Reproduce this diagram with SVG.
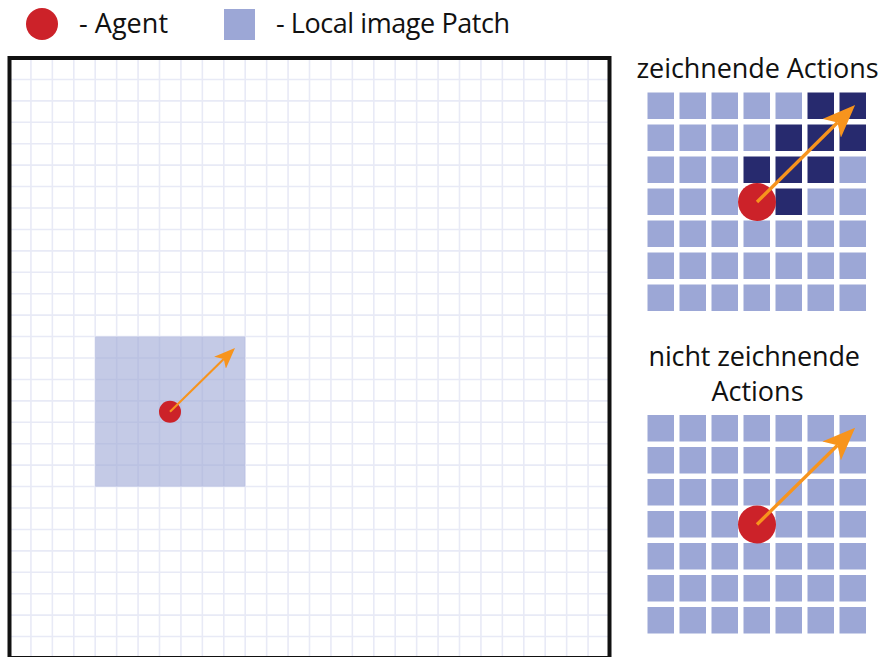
<svg xmlns="http://www.w3.org/2000/svg" width="883" height="657" viewBox="0 0 883 657">
<style>
text{font-family:"Open Sans","Noto Sans","Liberation Sans",sans-serif;font-size:27px;fill:#111;}
.agent{fill:#cc2229;}
.cell{fill:#9ca7d6;}
.dark{fill:#272a6e;}
.arrow{stroke:#f7941d;fill:none;marker-end:url(#head);}
.grid{stroke:#e8eaf6;stroke-width:1.6;fill:none;}
</style>
<defs>
<marker id="head" viewBox="0 0 10 8" refX="2.5" refY="4" markerWidth="10" markerHeight="8" orient="auto" markerUnits="strokeWidth">
<path d="M0,0 L10,4 L0,8 L2.5,4 Z" fill="#f7941d"/>
</marker>
</defs>
<rect width="883" height="657" fill="#fff"/>

<g id="legend">
<circle class="agent" cx="42" cy="24" r="16"/>
<text x="79" y="33" textLength="89">- Agent</text>
<rect class="cell" x="224" y="9" width="31" height="31"/>
<text x="276" y="33" textLength="234">- Local image Patch</text>
</g>

<g id="canvas">
<path class="grid" d="M30.93,58V658M52.36,58V658M73.79,58V658M95.21,58V658M116.64,58V658M138.07,58V658M159.5,58V658M180.93,58V658M202.36,58V658M223.79,58V658M245.21,58V658M266.64,58V658M288.07,58V658M309.5,58V658M330.93,58V658M352.36,58V658M373.79,58V658M395.21,58V658M416.64,58V658M438.07,58V658M459.5,58V658M480.93,58V658M502.36,58V658M523.79,58V658M545.21,58V658M566.64,58V658M588.07,58V658
M9.5,79.43H609.5M9.5,100.86H609.5M9.5,122.29H609.5M9.5,143.71H609.5M9.5,165.14H609.5M9.5,186.57H609.5M9.5,208H609.5M9.5,229.43H609.5M9.5,250.86H609.5M9.5,272.29H609.5M9.5,293.71H609.5M9.5,315.14H609.5M9.5,336.57H609.5M9.5,358H609.5M9.5,379.43H609.5M9.5,400.86H609.5M9.5,422.29H609.5M9.5,443.71H609.5M9.5,465.14H609.5M9.5,486.57H609.5M9.5,508H609.5M9.5,529.43H609.5M9.5,550.86H609.5M9.5,572.29H609.5M9.5,593.71H609.5M9.5,615.14H609.5M9.5,636.57H609.5"/>
<rect x="95.21" y="336.57" width="150" height="150" fill="#9ca7d6" fill-opacity="0.6"/>
<rect x="9.5" y="58" width="600" height="600" fill="none" stroke="#111" stroke-width="4"/>
</g>

<g id="agent-main">
<circle class="agent" cx="170" cy="411.7" r="11"/>
</g>

<g id="panel-drawing">
<text x="636.5" y="78" textLength="242">zeichnende Actions</text>
<g>
<rect class="cell" x="647.5" y="92.5" width="26.5" height="26.5"/><rect class="cell" x="679.5" y="92.5" width="26.5" height="26.5"/><rect class="cell" x="711.5" y="92.5" width="26.5" height="26.5"/><rect class="cell" x="743.5" y="92.5" width="26.5" height="26.5"/><rect class="cell" x="775.5" y="92.5" width="26.5" height="26.5"/><rect class="dark" x="807.5" y="92.5" width="26.5" height="26.5"/><rect class="dark" x="839.5" y="92.5" width="26.5" height="26.5"/>
<rect class="cell" x="647.5" y="124.5" width="26.5" height="26.5"/><rect class="cell" x="679.5" y="124.5" width="26.5" height="26.5"/><rect class="cell" x="711.5" y="124.5" width="26.5" height="26.5"/><rect class="cell" x="743.5" y="124.5" width="26.5" height="26.5"/><rect class="dark" x="775.5" y="124.5" width="26.5" height="26.5"/><rect class="dark" x="807.5" y="124.5" width="26.5" height="26.5"/><rect class="dark" x="839.5" y="124.5" width="26.5" height="26.5"/>
<rect class="cell" x="647.5" y="156.5" width="26.5" height="26.5"/><rect class="cell" x="679.5" y="156.5" width="26.5" height="26.5"/><rect class="cell" x="711.5" y="156.5" width="26.5" height="26.5"/><rect class="dark" x="743.5" y="156.5" width="26.5" height="26.5"/><rect class="dark" x="775.5" y="156.5" width="26.5" height="26.5"/><rect class="dark" x="807.5" y="156.5" width="26.5" height="26.5"/><rect class="cell" x="839.5" y="156.5" width="26.5" height="26.5"/>
<rect class="cell" x="647.5" y="188.5" width="26.5" height="26.5"/><rect class="cell" x="679.5" y="188.5" width="26.5" height="26.5"/><rect class="cell" x="711.5" y="188.5" width="26.5" height="26.5"/><rect class="cell" x="743.5" y="188.5" width="26.5" height="26.5"/><rect class="dark" x="775.5" y="188.5" width="26.5" height="26.5"/><rect class="cell" x="807.5" y="188.5" width="26.5" height="26.5"/><rect class="cell" x="839.5" y="188.5" width="26.5" height="26.5"/>
<rect class="cell" x="647.5" y="220.5" width="26.5" height="26.5"/><rect class="cell" x="679.5" y="220.5" width="26.5" height="26.5"/><rect class="cell" x="711.5" y="220.5" width="26.5" height="26.5"/><rect class="cell" x="743.5" y="220.5" width="26.5" height="26.5"/><rect class="cell" x="775.5" y="220.5" width="26.5" height="26.5"/><rect class="cell" x="807.5" y="220.5" width="26.5" height="26.5"/><rect class="cell" x="839.5" y="220.5" width="26.5" height="26.5"/>
<rect class="cell" x="647.5" y="252.5" width="26.5" height="26.5"/><rect class="cell" x="679.5" y="252.5" width="26.5" height="26.5"/><rect class="cell" x="711.5" y="252.5" width="26.5" height="26.5"/><rect class="cell" x="743.5" y="252.5" width="26.5" height="26.5"/><rect class="cell" x="775.5" y="252.5" width="26.5" height="26.5"/><rect class="cell" x="807.5" y="252.5" width="26.5" height="26.5"/><rect class="cell" x="839.5" y="252.5" width="26.5" height="26.5"/>
<rect class="cell" x="647.5" y="284.5" width="26.5" height="26.5"/><rect class="cell" x="679.5" y="284.5" width="26.5" height="26.5"/><rect class="cell" x="711.5" y="284.5" width="26.5" height="26.5"/><rect class="cell" x="743.5" y="284.5" width="26.5" height="26.5"/><rect class="cell" x="775.5" y="284.5" width="26.5" height="26.5"/><rect class="cell" x="807.5" y="284.5" width="26.5" height="26.5"/><rect class="cell" x="839.5" y="284.5" width="26.5" height="26.5"/>
</g>
<circle class="agent" cx="757" cy="202" r="19"/>
</g>

<g id="panel-nondrawing">
<text x="648.5" y="366" textLength="211.5">nicht zeichnende</text>
<text x="711.5" y="401" textLength="92">Actions</text>
<g>
<rect class="cell" x="647.5" y="415" width="26.5" height="26.5"/><rect class="cell" x="679.5" y="415" width="26.5" height="26.5"/><rect class="cell" x="711.5" y="415" width="26.5" height="26.5"/><rect class="cell" x="743.5" y="415" width="26.5" height="26.5"/><rect class="cell" x="775.5" y="415" width="26.5" height="26.5"/><rect class="cell" x="807.5" y="415" width="26.5" height="26.5"/><rect class="cell" x="839.5" y="415" width="26.5" height="26.5"/>
<rect class="cell" x="647.5" y="447" width="26.5" height="26.5"/><rect class="cell" x="679.5" y="447" width="26.5" height="26.5"/><rect class="cell" x="711.5" y="447" width="26.5" height="26.5"/><rect class="cell" x="743.5" y="447" width="26.5" height="26.5"/><rect class="cell" x="775.5" y="447" width="26.5" height="26.5"/><rect class="cell" x="807.5" y="447" width="26.5" height="26.5"/><rect class="cell" x="839.5" y="447" width="26.5" height="26.5"/>
<rect class="cell" x="647.5" y="479" width="26.5" height="26.5"/><rect class="cell" x="679.5" y="479" width="26.5" height="26.5"/><rect class="cell" x="711.5" y="479" width="26.5" height="26.5"/><rect class="cell" x="743.5" y="479" width="26.5" height="26.5"/><rect class="cell" x="775.5" y="479" width="26.5" height="26.5"/><rect class="cell" x="807.5" y="479" width="26.5" height="26.5"/><rect class="cell" x="839.5" y="479" width="26.5" height="26.5"/>
<rect class="cell" x="647.5" y="511" width="26.5" height="26.5"/><rect class="cell" x="679.5" y="511" width="26.5" height="26.5"/><rect class="cell" x="711.5" y="511" width="26.5" height="26.5"/><rect class="cell" x="743.5" y="511" width="26.5" height="26.5"/><rect class="cell" x="775.5" y="511" width="26.5" height="26.5"/><rect class="cell" x="807.5" y="511" width="26.5" height="26.5"/><rect class="cell" x="839.5" y="511" width="26.5" height="26.5"/>
<rect class="cell" x="647.5" y="543" width="26.5" height="26.5"/><rect class="cell" x="679.5" y="543" width="26.5" height="26.5"/><rect class="cell" x="711.5" y="543" width="26.5" height="26.5"/><rect class="cell" x="743.5" y="543" width="26.5" height="26.5"/><rect class="cell" x="775.5" y="543" width="26.5" height="26.5"/><rect class="cell" x="807.5" y="543" width="26.5" height="26.5"/><rect class="cell" x="839.5" y="543" width="26.5" height="26.5"/>
<rect class="cell" x="647.5" y="575" width="26.5" height="26.5"/><rect class="cell" x="679.5" y="575" width="26.5" height="26.5"/><rect class="cell" x="711.5" y="575" width="26.5" height="26.5"/><rect class="cell" x="743.5" y="575" width="26.5" height="26.5"/><rect class="cell" x="775.5" y="575" width="26.5" height="26.5"/><rect class="cell" x="807.5" y="575" width="26.5" height="26.5"/><rect class="cell" x="839.5" y="575" width="26.5" height="26.5"/>
<rect class="cell" x="647.5" y="607" width="26.5" height="26.5"/><rect class="cell" x="679.5" y="607" width="26.5" height="26.5"/><rect class="cell" x="711.5" y="607" width="26.5" height="26.5"/><rect class="cell" x="743.5" y="607" width="26.5" height="26.5"/><rect class="cell" x="775.5" y="607" width="26.5" height="26.5"/><rect class="cell" x="807.5" y="607" width="26.5" height="26.5"/><rect class="cell" x="839.5" y="607" width="26.5" height="26.5"/>
</g>
<circle class="agent" cx="757" cy="524.5" r="19"/>
</g>

<g id="connectors">
<path class="arrow" stroke-width="2.1" d="M170,411.7L223.75,359"/>
<path class="arrow" stroke-width="3.3" d="M757,202L837.5,122.5"/>
<path class="arrow" stroke-width="3.3" d="M757,524.5L837.5,445.2"/>
</g>
</svg>
